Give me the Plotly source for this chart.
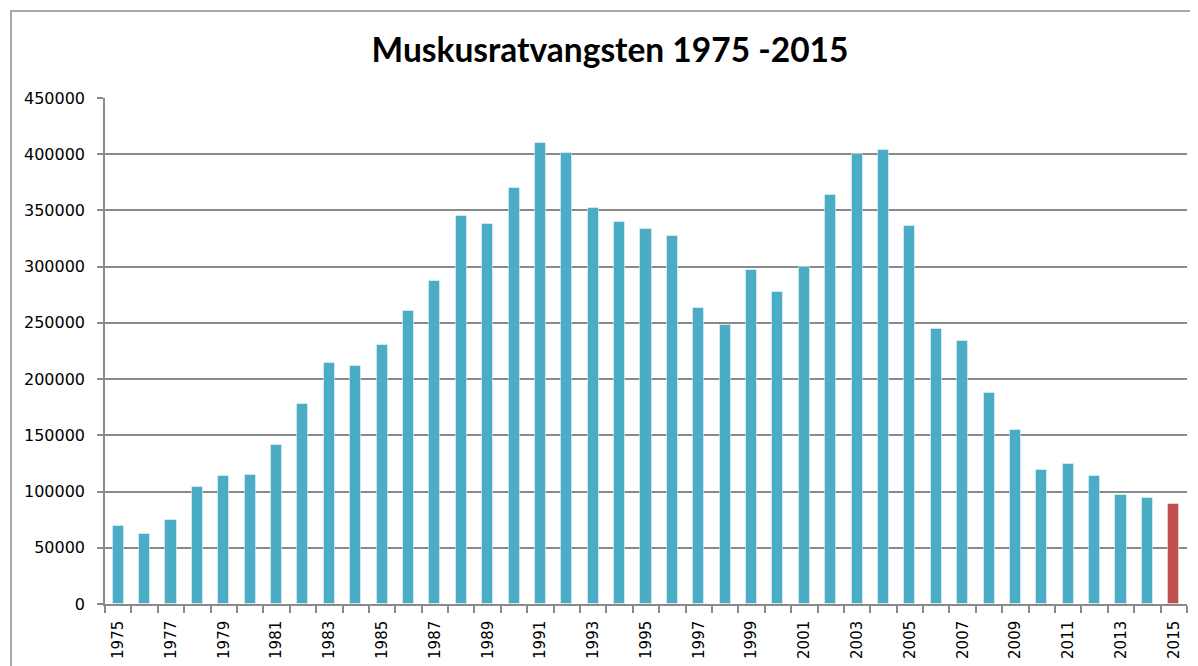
import plotly.graph_objects as go

years = list(range(1975, 2016))
catch = [69400, 62500, 75000, 103800, 113600, 114700, 141000, 178000, 214000, 211400,
         230300, 260800, 287000, 344800, 338000, 369700, 409700, 401400, 351900, 339500,
         333800, 327000, 263500, 248400, 296800, 277500, 299400, 364000, 400000, 404000,
         336500, 244300, 233600, 188000, 154700, 119200, 124500, 113600, 96900, 94300,
         88900]
label_years = [y for y in years if y % 2 == 1]
y_ticks = list(range(0, 450001, 50000))

TEAL = "#4BACC6"
RED = "#C0504D"
colors = [TEAL] * (len(years) - 1) + [RED]
GRID = "#8a8a8a"

fig = go.Figure(go.Bar(
    x=years, y=catch, width=0.42,
    marker=dict(color=colors, line=dict(color="rgba(255,255,255,0.45)", width=1)),
))

# page has an 8px body margin; figure sized to fill the rest of the window
OFF = 8
W, H = 1198 - OFF, 666 - OFF
L, T = 105 - OFF, 98 - OFF
R = W - (1187 - OFF)
B = H - (604 - OFF)
pw, ph = W - L - R, H - T - B

fig.update_layout(
    width=W, height=H,
    margin=dict(l=L, r=R, t=T, b=B, pad=0, autoexpand=False),
    paper_bgcolor="white", plot_bgcolor="white",
    showlegend=False,
    bargap=0,
    title=dict(text="<b>Muskusratvangsten 1975 -2015</b>",
               x=(610 - OFF) / W, y=1 - (50 - OFF) / H, xanchor="center", yanchor="middle",
               xref="container", yref="container",
               font=dict(family="Lato", size=33.5, color="black")),
    font=dict(family="DejaVu Sans", color="black"),
    xaxis=dict(
        range=[1974.5, 2015.5], tickmode="array", tickvals=label_years,
        ticktext=[str(y) for y in label_years], tickangle=-90,
        ticks="", showgrid=False, zeroline=False, automargin=False,
        showline=True, linecolor=GRID, linewidth=1.5,
        tickfont=dict(family="DejaVu Sans", size=15),
        ticklabelstandoff=9,
        minor=dict(tickmode="array", tickvals=[y - 0.5 for y in years] + [years[-1] + 0.5],
                   ticks="outside", ticklen=7, tickwidth=1.5, tickcolor=GRID, showgrid=False),
    ),
    yaxis=dict(
        range=[0, 450000], tickmode="array", tickvals=y_ticks,
        ticktext=[str(v) for v in y_ticks], automargin=False,
        ticks="outside", ticklen=6, tickwidth=1.5, tickcolor=GRID,
        showgrid=True, gridcolor=GRID, gridwidth=1.5,
        zeroline=False, showline=True, linecolor=GRID, linewidth=1.5,
        tickfont=dict(family="DejaVu Sans", size=16),
        ticklabelstandoff=9,
    ),
    shapes=[dict(type="rect", xref="paper", yref="paper",
                 x0=(11 - OFF - L) / pw, x1=(W + 20 - L) / pw,
                 y0=-(B + 30) / ph, y1=(H - (11 - OFF) - B) / ph,
                 line=dict(color="#8c8c8c", width=1.5), fillcolor="rgba(0,0,0,0)",
                 layer="below")],
)

fig.write_html("out.html")
